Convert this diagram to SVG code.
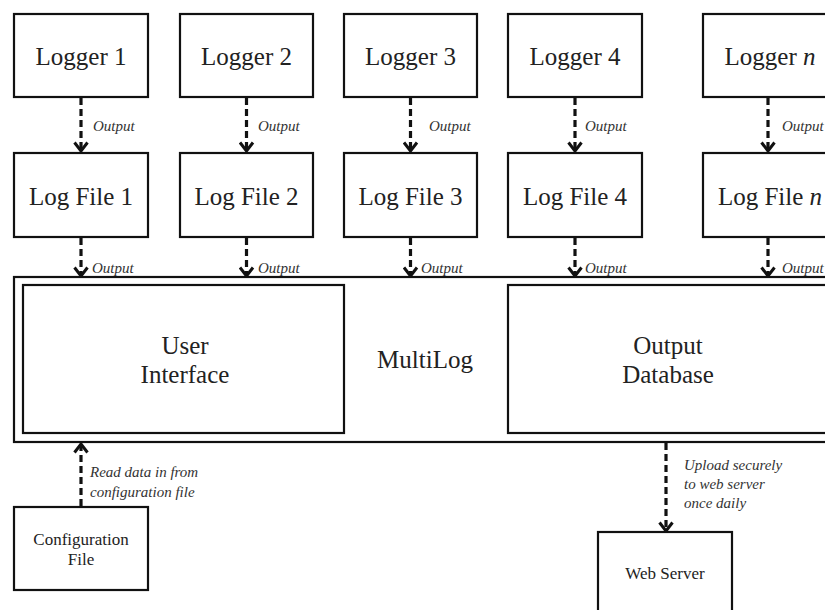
<svg xmlns="http://www.w3.org/2000/svg" width="825" height="610" viewBox="0 0 825 610" font-family="Liberation Serif, Times New Roman, DejaVu Serif, serif">
<defs>
<style>
.box{fill:#fff;stroke:#111;stroke-width:2.2}
.big{font-size:25px;fill:#222;text-anchor:middle}
.mid{font-size:17px;fill:#222;text-anchor:middle}
.lbl{font-size:15px;font-style:italic;fill:#333}
.conn{fill:none;stroke:#111;stroke-width:3.2;stroke-dasharray:7 4}
</style>
<marker id="chev" viewBox="0 0 12 16" refX="10" refY="8" markerWidth="12" markerHeight="16" markerUnits="userSpaceOnUse" orient="auto-start-reverse">
<path d="M1.5,1.5 L10,8 L1.5,14.5" fill="none" stroke="#111" stroke-width="3"/>
</marker>
</defs>
<rect width="825" height="610" fill="#fff"/>

<g id="multilog">
<rect class="box" x="14" y="277" width="830" height="165"/>
<text class="big" x="425" y="368">MultiLog</text>
</g>
<g id="user-interface">
<rect class="box" x="23" y="285" width="321" height="148"/>
<text class="big" x="185" y="354">User</text>
<text class="big" x="185" y="383">Interface</text>
</g>
<g id="output-database">
<rect class="box" x="508" y="285" width="330" height="148"/>
<text class="big" x="668" y="354">Output</text>
<text class="big" x="668" y="383">Database</text>
</g>

<g id="logger1"><rect class="box" x="14" y="14" width="134" height="83"/><text class="big" x="81" y="65">Logger 1</text></g>
<g id="logger2"><rect class="box" x="180" y="14" width="133" height="83"/><text class="big" x="246.5" y="65">Logger 2</text></g>
<g id="logger3"><rect class="box" x="344" y="14" width="133" height="83"/><text class="big" x="410.5" y="65">Logger 3</text></g>
<g id="logger4"><rect class="box" x="508" y="14" width="134" height="83"/><text class="big" x="575" y="65">Logger 4</text></g>
<g id="loggern"><rect class="box" x="703" y="14" width="134" height="83"/><text class="big" x="770" y="65">Logger <tspan font-style="italic">n</tspan></text></g>

<g id="logfile1"><rect class="box" x="14" y="153" width="134" height="84"/><text class="big" x="81" y="205">Log File 1</text></g>
<g id="logfile2"><rect class="box" x="180" y="153" width="133" height="84"/><text class="big" x="246.5" y="205">Log File 2</text></g>
<g id="logfile3"><rect class="box" x="344" y="153" width="133" height="84"/><text class="big" x="410.5" y="205">Log File 3</text></g>
<g id="logfile4"><rect class="box" x="508" y="153" width="134" height="84"/><text class="big" x="575" y="205">Log File 4</text></g>
<g id="logfilen"><rect class="box" x="703" y="153" width="134" height="84"/><text class="big" x="770" y="205">Log File <tspan font-style="italic">n</tspan></text></g>

<g id="config-file"><rect class="box" x="14" y="507" width="134" height="83"/><text class="mid" x="81" y="545">Configuration</text><text class="mid" x="81" y="565">File</text></g>
<g id="web-server"><rect class="box" x="598" y="532" width="134" height="90"/><text class="mid" x="665" y="579">Web Server</text></g>

<g id="connectors">
<path class="conn" d="M81,98 V151" marker-end="url(#chev)"/>
<path class="conn" d="M246.5,98 V151" marker-end="url(#chev)"/>
<path class="conn" d="M410.5,98 V151" marker-end="url(#chev)"/>
<path class="conn" d="M575,98 V151" marker-end="url(#chev)"/>
<path class="conn" d="M768,98 V151" marker-end="url(#chev)"/>
<path class="conn" d="M81,238 V276" marker-end="url(#chev)"/>
<path class="conn" d="M246.5,238 V276" marker-end="url(#chev)"/>
<path class="conn" d="M410.5,238 V276" marker-end="url(#chev)"/>
<path class="conn" d="M575,238 V276" marker-end="url(#chev)"/>
<path class="conn" d="M768,238 V276" marker-end="url(#chev)"/>
<path class="conn" d="M81,506 V444" marker-end="url(#chev)"/>
<path class="conn" d="M666,443 V531" marker-end="url(#chev)"/>
<text class="lbl" x="93" y="131">Output</text>
<text class="lbl" x="258" y="131">Output</text>
<text class="lbl" x="429" y="131">Output</text>
<text class="lbl" x="585" y="131">Output</text>
<text class="lbl" x="782" y="131">Output</text>
<text class="lbl" x="92" y="273">Output</text>
<text class="lbl" x="258" y="273">Output</text>
<text class="lbl" x="421" y="273">Output</text>
<text class="lbl" x="585" y="273">Output</text>
<text class="lbl" x="782" y="273">Output</text>
<text class="lbl" x="90" y="477">Read data in from</text>
<text class="lbl" x="90" y="497">configuration file</text>
<text class="lbl" x="684" y="470">Upload securely</text>
<text class="lbl" x="684" y="489">to web server</text>
<text class="lbl" x="684" y="508">once daily</text>
</g>
</svg>
